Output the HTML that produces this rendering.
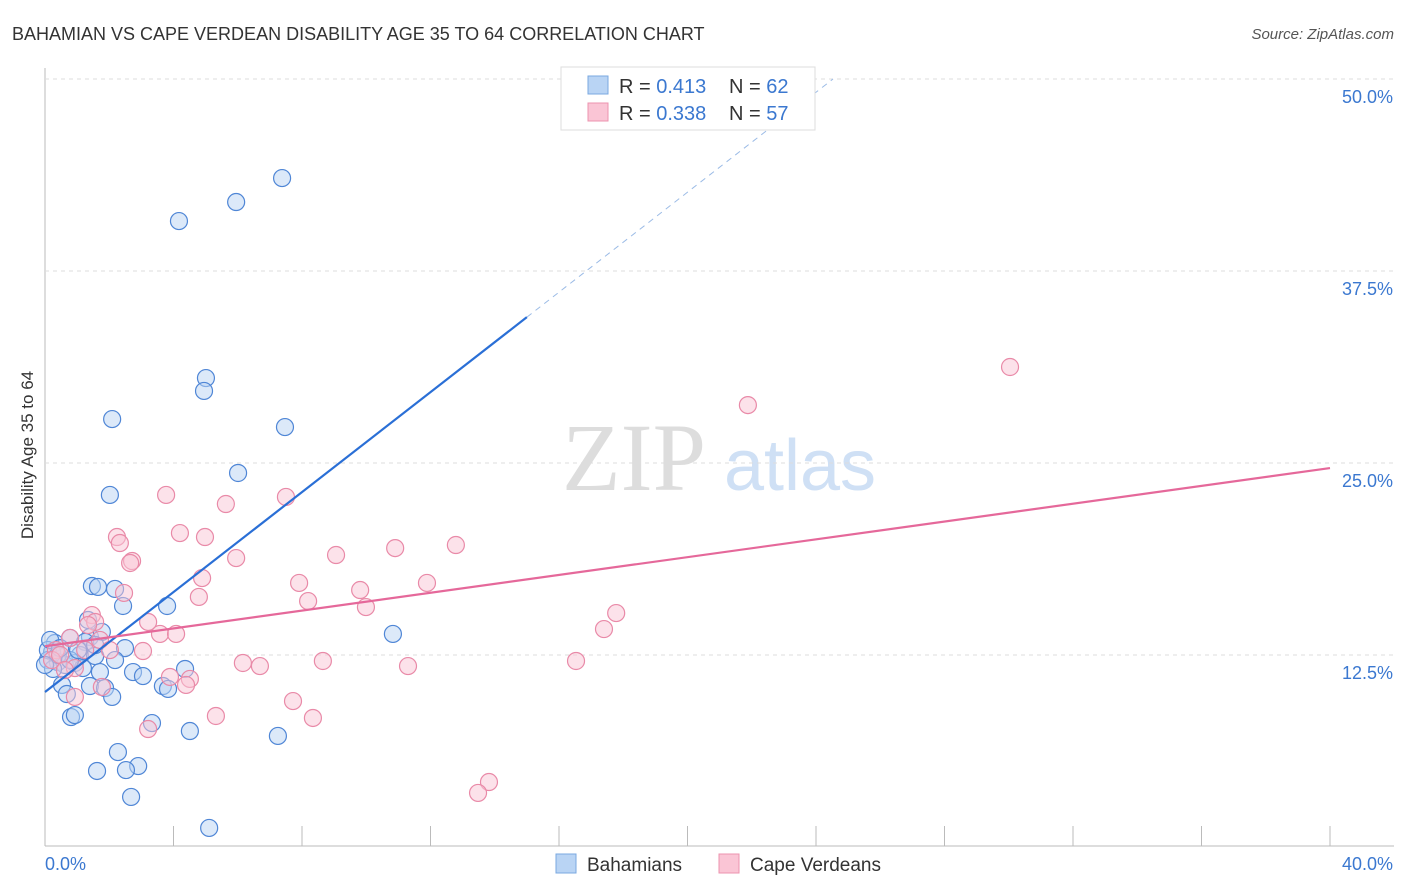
<!DOCTYPE html>
<html><head><meta charset="utf-8"><style>
body{margin:0;background:#fff;font-family:"Liberation Sans",sans-serif;}
svg{display:block}
</style></head><body>
<svg id="chart" width="1406" height="892">
<text x="12" y="40" font-size="18" fill="#333">BAHAMIAN VS CAPE VERDEAN DISABILITY AGE 35 TO 64 CORRELATION CHART</text>
<text x="1394" y="39" font-size="15" fill="#555" font-style="italic" text-anchor="end">Source: ZipAtlas.com</text>
<text x="634" y="490" font-size="96" fill="#ddd" font-family="Liberation Serif" text-anchor="middle">ZIP</text>
<text x="800" y="490" font-size="72" fill="#cfe0f5" text-anchor="middle">atlas</text>
<text transform="translate(33,455) rotate(-90)" font-size="17" fill="#333" text-anchor="middle">Disability Age 35 to 64</text>
<g id="grid"></g><g id="marks"></g>
<g>
<rect x="561" y="67" width="254" height="63" fill="#fff" stroke="#ddd"/>
<rect x="588" y="76" width="20" height="18" fill="#b9d4f4" stroke="#7aa8e0"/>
<rect x="588" y="103" width="20" height="18" fill="#fac5d5" stroke="#ec93af"/>
<text x="619" y="93" font-size="20" fill="#333">R = <tspan fill="#3b78d0">0.413</tspan></text>
<text x="729" y="93" font-size="20" fill="#333">N = <tspan fill="#3b78d0">62</tspan></text>
<text x="619" y="120" font-size="20" fill="#333">R = <tspan fill="#3b78d0">0.338</tspan></text>
<text x="729" y="120" font-size="20" fill="#333">N = <tspan fill="#3b78d0">57</tspan></text>
</g>
<g>
<rect x="556" y="854" width="20" height="19" fill="#b9d4f4" stroke="#7aa8e0"/>
<text x="587" y="871" font-size="19" fill="#333">Bahamians</text>
<rect x="719" y="854" width="20" height="19" fill="#fac5d5" stroke="#ec93af"/>
<text x="750" y="871" font-size="19" fill="#333">Cape Verdeans</text>
</g>
</svg>
<script>
const yTicks=[12.5,25,37.5,50];
const yTickLabels=["12.5%","25.0%","37.5%","50.0%"];
const xTickLabels=["0.0%","40.0%"];
const blueX=[7.38,5.95,4.17,5.01,4.95,2.09,7.47,6.01,2.02,1.46,1.65,2.18,2.43,3.80,10.83,0.31,0.78,1.40,1.77,1.25,2.49,0.22,1.09,1.56,0.09,0.40,0.62,0.93,1.18,1.71,4.36,2.74,3.05,0.25,0.53,1.40,1.87,3.67,3.83,2.09,0.68,0.81,0.93,3.33,4.51,7.25,2.27,2.90,2.52,1.62,2.68,5.11,0.09,0.40,0.00,0.78,1.34,1.56,0.16,1.03,0.47,2.18];
const blueY=[43.55,41.99,40.75,30.53,29.69,27.86,27.34,24.35,22.92,16.99,16.93,16.80,15.69,15.69,13.87,13.28,13.61,13.67,14.00,13.35,12.95,12.69,12.50,12.43,12.17,12.04,11.85,11.98,11.65,11.39,11.59,11.39,11.13,11.59,10.55,10.48,10.35,10.48,10.29,9.77,9.96,8.46,8.59,8.07,7.55,7.23,6.18,5.27,5.01,4.95,3.26,1.24,12.82,12.50,11.85,12.17,14.78,13.15,13.48,12.82,12.95,12.17];
const pinkX=[30.04,21.88,3.77,7.50,5.63,4.20,4.98,2.24,2.33,2.71,2.65,5.95,9.06,10.90,12.79,4.89,7.91,11.89,9.81,2.46,4.79,8.19,9.99,17.78,1.46,1.56,1.34,3.21,17.40,3.58,4.08,0.78,1.71,3.05,2.02,0.34,6.16,6.69,8.65,11.30,16.53,0.22,0.93,3.89,4.51,4.39,1.77,0.93,7.72,5.32,8.34,3.21,13.82,13.48,0.47,1.25,0.62];
const pinkY=[31.25,28.77,22.92,22.79,22.33,20.44,20.18,20.18,19.79,18.62,18.49,18.81,19.01,19.46,19.66,17.51,17.19,17.19,16.73,16.54,16.28,16.01,15.62,15.23,15.10,14.65,14.45,14.65,14.19,13.87,13.87,13.61,13.48,12.76,12.82,12.82,11.98,11.78,12.11,11.78,12.11,12.17,11.65,11.07,10.94,10.55,10.42,9.77,9.50,8.53,8.40,7.68,4.23,3.52,12.50,12.82,11.52];
const blueTrend=[10.09,1.627];
const pinkTrend=[13.07,0.29];
const X=v=>45+v/40*1285, Y=v=>847-v/50*768;
const NS="http://www.w3.org/2000/svg";
const grid=document.getElementById('grid'), marks=document.getElementById('marks');
function mk(tag,attrs,parent){const e=document.createElementNS(NS,tag);for(const k in attrs)e.setAttribute(k,attrs[k]);parent.appendChild(e);return e;}
let ax=mk('line',{x1:45,y1:68,x2:45,y2:846,stroke:'#bbb'},grid);


let bx=mk('line',{x1:45,y1:846,x2:1394,y2:846,stroke:'#bbb'},grid);


yTicks.forEach((t,i)=>{
 const g=mk('line',{x1:45,y1:Y(t),x2:1394,y2:Y(t),stroke:'#ddd','stroke-dasharray':'4,4'},grid);
 
 
 const l=mk('text',{x:1393,y:Y(t)+24,'font-size':18,fill:'#3b78d0','text-anchor':'end'},grid);
 l.textContent=yTickLabels[i];
 
 
});
for(let i=1;i<=10;i++){
 const t=mk('line',{x1:X(i*4),y1:826,x2:X(i*4),y2:846,stroke:'#bbb'},grid);
 
 
}
[[0,45,'start'],[40,1393,'end']].forEach((d,i)=>{
 const l=mk('text',{x:d[1],y:870,'font-size':18,fill:'#3b78d0','text-anchor':d[2]},grid);
 l.textContent=xTickLabels[i];
 
 
});
function pts(xs,ys,fill,stroke,name){
 xs.forEach((x,i)=>{
  const c=mk('circle',{cx:X(x),cy:Y(ys[i]),r:8.5,fill:fill,'fill-opacity':0.5,stroke:stroke,'stroke-width':1.2},marks);
  
  
 });
}
pts(blueX,blueY,'#b9d4f4','#4f86d6','bahamian-point');
pts(pinkX,pinkY,'#fac5d5','#e98aa8','cape-verdean-point');
const bEnd=15, bDashEnd=(50-blueTrend[0])/blueTrend[1];
let l1=mk('line',{x1:X(0),y1:Y(blueTrend[0]),x2:X(bEnd),y2:Y(blueTrend[0]+blueTrend[1]*bEnd),stroke:'#2a6fd6','stroke-width':2.2},marks);


let l2=mk('line',{x1:X(bEnd),y1:Y(blueTrend[0]+blueTrend[1]*bEnd),x2:X(bDashEnd),y2:Y(50),stroke:'#9bbbe6','stroke-width':1,'stroke-dasharray':'6,5'},marks);


let l3=mk('line',{x1:X(0),y1:Y(pinkTrend[0]),x2:X(40),y2:Y(pinkTrend[0]+pinkTrend[1]*40),stroke:'#e5689a','stroke-width':2.2},marks);


</script>
</body></html>
